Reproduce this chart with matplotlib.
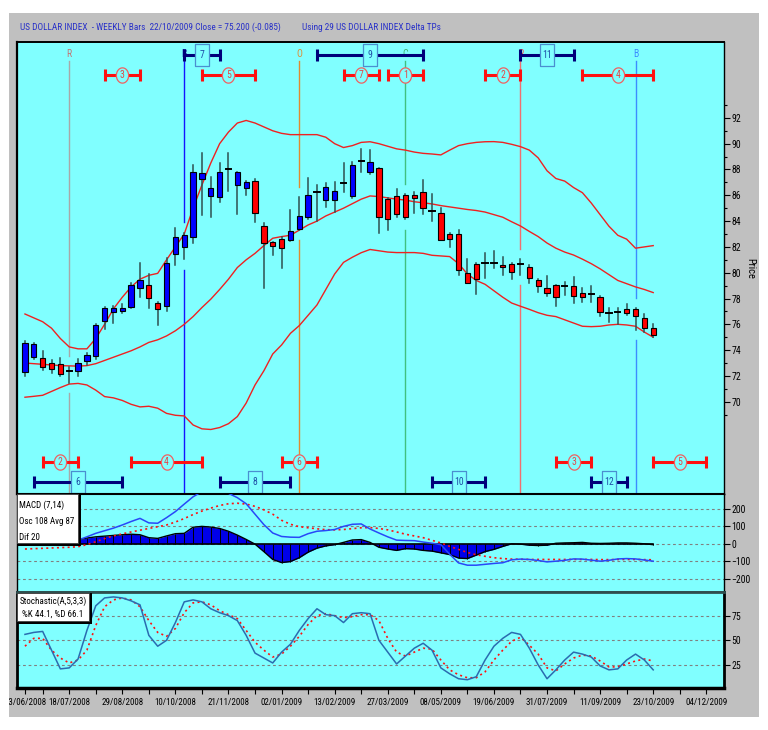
import numpy as np
import matplotlib
matplotlib.use('Agg')
import matplotlib.pyplot as plt
import matplotlib.transforms as mtransforms
from matplotlib.patches import Rectangle
from matplotlib import font_manager as fm

# ---------------- pick a condensed font if one is installed ----------------
def pick_font():
    for fam in ['Liberation Sans Narrow', 'Arial Narrow', 'Roboto Condensed',
                'Open Sans Condensed', 'Noto Sans Condensed', 'DejaVu Sans Condensed']:
        try:
            fm.findfont(fm.FontProperties(family=fam), fallback_to_default=False)
            return fam, 'normal', True
        except Exception:
            pass
    for fam in ['DejaVu Sans', 'Noto Sans', 'Roboto', 'Open Sans', 'Liberation Sans']:
        try:
            p = fm.findfont(fm.FontProperties(family=fam, stretch='condensed'),
                            fallback_to_default=False)
            if 'ondensed' in p or 'arrow' in p:
                return fam, 'condensed', True
        except Exception:
            pass
    return 'Liberation Sans', 'normal', False


FAM, STRETCH, CONDENSED = pick_font()
plt.rcParams['font.family'] = [FAM, 'DejaVu Sans']
plt.rcParams['font.stretch'] = STRETCH
K = 1.0 if CONDENSED else 0.84   # font-size factor

# ---------------- data (weekly bars, index 0 = 13/06/2008) ----------------
opens = [72.33, 73.44, 73.39, 72.98, 72.93, 72.40, 72.41, 73.13, 73.55, 76.28,
         76.98, 77.03, 77.37, 78.79, 79.02, 77.63, 77.45, 81.45, 81.97, 82.80,
         87.24, 85.97, 85.90, 88.00, 86.80, 86.60, 87.11, 83.62, 82.36, 82.62,
         82.54, 83.39, 84.29, 86.28, 85.64, 85.64, 86.93, 85.95, 88.69, 87.84,
         88.14, 85.69, 85.95, 86.00, 86.00, 86.28, 84.81, 84.60, 82.98, 82.98,
         80.00, 80.68, 80.78, 80.78, 80.63, 80.68, 80.68, 80.47, 79.44, 78.84,
         79.05, 78.97, 79.00, 78.40, 78.35, 78.14, 76.90, 76.93, 77.16, 77.19,
         76.52, 75.69]
highs = [74.73, 74.53, 73.96, 73.24, 73.36, 72.72, 73.29, 73.80, 76.03, 77.37,
         77.42, 77.58, 79.18, 80.78, 79.90, 77.76, 81.17, 83.49, 83.11, 88.35,
         89.26, 87.45, 88.53, 89.26, 87.84, 87.11, 87.24, 83.88, 82.41, 82.75,
         84.86, 85.85, 87.37, 86.80, 86.93, 87.01, 88.48, 88.61, 89.57, 89.51,
         88.14, 85.77, 86.47, 86.10, 86.28, 87.19, 86.10, 84.99, 83.05, 83.31,
         81.04, 80.73, 81.50, 81.68, 81.25, 80.78, 81.04, 80.60, 79.49, 79.75,
         79.05, 79.31, 79.70, 78.84, 78.97, 78.19, 77.24, 77.24, 77.58, 77.24,
         76.80, 76.03]
lows = [72.02, 73.29, 72.46, 72.20, 71.99, 71.48, 71.99, 72.85, 73.34, 75.61,
        76.13, 76.85, 77.24, 78.15, 77.24, 75.95, 77.06, 80.57, 81.04, 82.33,
        84.48, 84.35, 85.51, 86.34, 84.55, 86.00, 83.96, 78.79, 81.37, 80.39,
        82.49, 83.31, 84.14, 84.01, 85.07, 84.73, 86.28, 85.77, 87.84, 87.65,
        83.05, 83.31, 84.35, 84.14, 84.66, 84.55, 84.04, 82.54, 81.97, 79.82,
        79.18, 78.35, 79.57, 80.34, 79.82, 79.49, 79.82, 79.23, 78.53, 78.19,
        77.45, 78.27, 77.68, 77.76, 77.76, 76.65, 76.21, 76.03, 76.72, 75.56,
        75.43, 74.99]
closes = [74.58, 74.48, 72.72, 72.56, 72.12, 72.40, 73.03, 73.60, 75.97, 77.24,
          77.24, 77.29, 79.02, 79.44, 78.02, 77.19, 80.73, 82.75, 82.93, 87.78,
          87.76, 86.54, 87.78, 88.00, 87.78, 87.00, 84.66, 82.33, 82.07, 81.89,
          83.26, 84.43, 86.00, 86.28, 86.62, 86.36, 86.93, 88.33, 88.69, 88.56,
          84.35, 84.14, 84.55, 84.29, 85.82, 84.99, 84.81, 82.54, 82.62, 80.21,
          79.23, 79.49, 80.78, 80.78, 80.42, 80.08, 80.68, 79.59, 78.97, 78.40,
          78.14, 78.97, 78.22, 78.09, 78.35, 76.98, 76.90, 76.93, 76.85, 76.65,
          75.69, 75.20]

bb_upper = [76.8, 76.5, 76.2, 75.7, 74.9, 74.25, 74.1, 74.1, 74.9, 76.0,
            77.2, 78.1, 78.9, 79.5, 79.8, 79.95, 81.0, 82.0, 83.0, 85.0,
            86.8, 88.5, 90.0, 90.9, 91.6, 91.8, 91.6, 91.3, 91.0, 90.8,
            90.7, 90.7, 90.7, 90.7, 90.5, 90.0, 89.7, 89.85, 90.1, 90.15,
            90.0, 89.8, 89.6, 89.5, 89.35, 89.25, 89.2, 89.13, 89.5, 89.85,
            90.0, 90.1, 90.15, 90.16, 90.1, 89.95, 89.77, 89.5, 88.9, 87.9,
            87.3, 87.1, 86.6, 86.2, 85.4, 84.5, 83.6, 82.9, 82.6, 81.9,
            82.0, 82.1]
bb_mid = [73.0, 72.95, 72.9, 72.85, 72.8, 72.78, 72.76, 72.8, 72.95, 73.2,
          73.45, 73.7, 73.95, 74.25, 74.6, 74.8, 75.1, 75.5, 76.0, 76.6,
          77.3, 77.95, 78.7, 79.5, 80.4, 81.0, 81.5, 82.1, 82.67, 82.8,
          82.9, 83.3, 83.7, 84.0, 84.4, 84.7, 85.0, 85.35, 85.7, 85.95,
          85.9, 85.8, 85.7, 85.63, 85.5, 85.42, 85.33, 85.2, 85.1, 85.0,
          84.9, 84.82, 84.7, 84.5, 84.3, 83.95, 83.62, 83.2, 82.8, 82.3,
          81.9, 81.6, 81.37, 81.05, 80.7, 80.3, 79.85, 79.4, 79.15, 78.9,
          78.7, 78.46]
bb_lower = [70.35, 70.42, 70.5, 70.8, 71.1, 71.37, 71.42, 71.3, 70.9, 70.4,
            70.3, 70.1, 69.8, 69.6, 69.65, 69.5, 69.1, 68.95, 68.9, 68.2,
            67.9, 67.85, 68.0, 68.3, 68.85, 69.9, 71.3, 72.4, 73.7, 74.4,
            75.3, 75.9, 76.7, 77.5, 78.7, 79.9, 80.8, 81.2, 81.55, 81.8,
            81.7, 81.6, 81.56, 81.56, 81.56, 81.5, 81.35, 81.3, 81.25, 80.7,
            79.9, 79.4, 79.1, 78.6, 78.1, 77.65, 77.4, 77.16, 76.9, 76.7,
            76.6, 76.35, 76.1, 75.85, 75.82, 75.85, 75.95, 76.0, 75.95, 75.85,
            75.4, 75.0]

macd_line = [-5, 3, 8, 11, 13, 16, 21, 40, 60, 75,
             90, 108, 128, 146, 120, 118, 150, 185, 228, 270,
             300, 310, 305, 290, 265, 230, 170, 110, 62, 42,
             38, 37, 58, 72, 76, 82, 100, 112, 114, 85,
             62, 40, 21, 19, 18, 10, 3, -5, -60, -110,
             -123, -123, -118, -113, -109, -92, -88, -90, -96, -104,
             -100, -95, -87, -88, -94, -100, -95, -87, -85, -87,
             -93, -100]
macd_signal = [-30, -28, -26, -24, -22, -20, -17, -5, 12, 30,
               45, 57, 68, 78, 88, 98, 108, 125, 145, 168,
               188, 205, 220, 230, 233, 228, 215, 195, 170, 135,
               112, 98, 92, 86, 81, 80, 82, 87, 92, 93,
               88, 80, 68, 55, 45, 35, 20, 5, -15, -32,
               -50, -63, -72, -80, -85, -88, -89, -90, -90, -90,
               -90, -90, -90, -90, -90, -91, -91, -90, -90, -90,
               -91, -92]
macd_hist = [30, 33, 34, 34, 32, 28, 22, 33, 40, 44,
             48, 52, 55, 52, 35, 31, 45, 58, 60, 95,
             100, 96, 88, 72, 50, 25, -2, -45, -90, -108,
             -102, -80, -48, -25, -12, -5, 8, 22, 24, 8,
             -20, -30, -38, -28, -30, -38, -42, -52, -62, -82,
             -85, -65, -45, -32, -15, 0, -2, -8, -10, -8,
             3, 5, 6, 8, 3, 2, 3, 5, 5, 3,
             0, -5]

stoch_k = [56, 58, 59, 40, 21, 22, 31, 60, 85, 93,
           94, 93, 90, 86, 55, 44, 50, 68, 89, 91,
           89, 82, 78, 75, 70, 55, 37, 32, 27, 38,
           46, 60, 72, 82, 76, 75, 68, 77, 78, 77,
           50, 38, 26, 34, 42, 47, 40, 22, 16, 11,
           10, 13, 30, 44, 52, 58, 56, 42, 25, 11,
           20, 30, 38, 36, 33, 24, 20, 21, 30, 36,
           30, 20]
stoch_d = [44, 52, 52, 40, 32, 27, 30, 40, 65, 84,
           91, 93, 91, 84, 70, 58, 54, 62, 78, 88,
           89, 86, 80, 76, 72, 60, 48, 40, 33, 36,
           44, 54, 66, 75, 77, 75, 73, 74, 76, 76,
           70, 52, 38, 34, 38, 42, 41, 30, 20, 15,
           12, 12, 18, 30, 40, 49, 53, 45, 36, 22,
           19, 26, 32, 35, 34, 29, 23, 23, 26, 29,
           31, 29]

tick_pos = [0, 5, 11, 17, 23, 29, 35, 41, 47, 53, 59, 65, 71, 77]
tick_labels = ['13/06/2008', '18/07/2008', '29/08/2008', '10/10/2008', '21/11/2008',
               '02/01/2009', '13/02/2009', '27/03/2009', '08/05/2009', '19/06/2009',
               '31/07/2009', '11/09/2009', '23/10/2009', '04/12/2009']
minor_pos = [2, 8, 14, 20, 26, 32, 38, 44, 50, 56, 62, 68, 74]

# Delta turning points
tp_pos = [5, 18, 31, 43, 56, 69]
tp_letters = ['R', 'B', 'O', 'C', 'R', 'B']
tp_line_colors = ['#A8A8A8', '#1414FF', '#E08A30', '#40C080', '#F07070', '#3C8CFF']
tp_text_colors = ['#C07878', '#1010A0', '#E08A30', '#40B070', '#F05050', '#3C8CFF']

# time windows (start, end, number)
top_blue = [(18, 22, 7), (33, 45, 9), (56, 62, 11)]
top_red = [(9, 13, 3), (20, 26, 5), (36, 40, 7), (41, 45, 1), (52, 56, 2), (63, 71, 4)]
bot_red = [(2, 6, 2), (12, 20, 4), (29, 33, 6), (60, 64, 3), (71, 77, 5)]
bot_blue = [(1, 11, 6), (22, 30, 8), (46, 52, 10), (64, 68, 12)]

title_left = 'US DOLLAR INDEX  - WEEKLY Bars  22/10/2009 Close = 75.200 (-0.085)'
title_right = 'Using 29 US DOLLAR INDEX Delta TPs'
macd_legend = ['MACD (7,14)', 'Osc 108 Avg 87', 'Dif 20']
stoch_legend = ['Stochastic(A,5,3,3)', '%K 44.1, %D 66.1']

# ---------------- figure ----------------
W, H = 768, 730
fig = plt.figure(figsize=(W / 100, H / 100), dpi=100)
fig.patch.set_facecolor('white')


def fx(px):
    return px / W


def fy(py):
    return 1 - py / H


BG = '#80FFFF'
fig.add_artist(Rectangle((fx(9), fy(717)), fx(759) - fx(9), fy(13) - fy(717),
                         transform=fig.transFigure, facecolor='#C0C0C0',
                         edgecolor='none', zorder=-10))

L, R = 17, 724
ax1 = fig.add_axes([fx(L), fy(494), fx(R) - fx(L), fy(42) - fy(494)])
ax2 = fig.add_axes([fx(L), fy(592), fx(R) - fx(L), fy(494) - fy(592)], sharex=ax1)
ax3 = fig.add_axes([fx(L), fy(688), fx(R) - fx(L), fy(592) - fy(688)], sharex=ax1)

TSY = 7.0 * K   # y tick label size
TSX = 6.5 * K   # x tick label size
n = len(closes)
idx = np.arange(n)
XL = (-0.9, 79.0)
for ax in (ax1, ax2, ax3):
    ax.set_facecolor(BG)
    ax.set_xlim(*XL)
    ax.yaxis.tick_right()
    ax.tick_params(axis='y', which='both', direction='out', labelsize=TSY, pad=1.5,
                   left=False, labelleft=False, right=True, labelright=True, width=0.8)
    ax.tick_params(axis='y', which='major', length=4)
    ax.tick_params(axis='y', which='minor', length=2)
    for s in ax.spines.values():
        s.set_color('black')
        s.set_linewidth(1.0)

# ---------- price panel ----------
Y0, Y1 = 62.85, 97.88
ax1.set_ylim(Y0, Y1)
ax1.set_yticks(np.arange(70, 93, 2))
ax1.set_yticks(np.arange(69, 94, 1), minor=True)
ax1.tick_params(axis='x', which='both', bottom=False, labelbottom=False)
ax1.spines['left'].set_linewidth(1.6)
ax1.spines['top'].set_linewidth(1.4)

# Bollinger bands
for band in (bb_upper, bb_mid, bb_lower):
    ax1.plot(idx, band, color='#F02020', lw=1.0, zorder=2)

# turning-point vertical lines (hidden around the bar)
ytop_line = Y0 + 0.958 * (Y1 - Y0)
for p, let, lc, tc in zip(tp_pos, tp_letters, tp_line_colors, tp_text_colors):
    ax1.plot([p, p], [Y0, lows[p] - 0.8], color=lc, lw=1.0, zorder=1)
    ax1.plot([p, p], [highs[p] + 0.8, ytop_line], color=lc, lw=1.0, zorder=1)
    ax1.text(p, Y0 + 0.9735 * (Y1 - Y0), let, color=tc, fontsize=7 * K,
             ha='center', va='center', zorder=3)

# candles
wick_c = '#2F5050'
for i in range(n):
    o, h, l, c = opens[i], highs[i], lows[i], closes[i]
    ax1.plot([i, i], [l, h], color=wick_c, lw=1.1, zorder=4)
    if abs(c - o) < 0.05:
        ax1.plot([i - 0.3, i + 0.3], [c, c], color='black', lw=1.4, zorder=5)
    else:
        fc = '#0000FF' if c > o else '#FF0000'
        ax1.add_patch(Rectangle((i - 0.3, min(o, c)), 0.6, abs(c - o),
                                facecolor=fc, edgecolor='black', lw=0.8, zorder=5))

# time windows
trans = mtransforms.blended_transform_factory(ax1.transData, ax1.transAxes)
ell = np.linspace(0, 2 * np.pi, 40)
ellipse_marker = np.column_stack([6 * np.cos(ell), 7.5 * np.sin(ell)])
box_marker = np.array([[-7, -11.5], [7, -11.5], [7, 11.5], [-7, 11.5], [-7, -11.5]])


def draw_windows(wins, yfrac, kind):
    for s, e, num in wins:
        m = (s + e) / 2
        if kind == 'red':
            col, mk, ms, mec, tcol = '#FF1010', ellipse_marker, 11, '#F06060', '#E04848'
        else:
            col, mk, ms, mec, tcol = '#00007A', box_marker, 16.5, '#4A8FD0', '#2050A8'
        ax1.plot([s, e], [yfrac, yfrac], color=col, lw=2.2, transform=trans,
                 zorder=6, solid_capstyle='butt')
        ax1.plot([s, e], [yfrac, yfrac], ls='none', marker='|', ms=9, mew=2.2,
                 color=col, transform=trans, zorder=6)
        ax1.plot([m], [yfrac], ls='none', marker=mk, ms=ms,
                 mfc=BG, mec=mec, mew=0.9, transform=trans, zorder=7)
        ax1.text(m, yfrac, str(num), color=tcol, fontsize=7 * K,
                 ha='center', va='center', transform=trans, zorder=8)


draw_windows(top_blue, 0.9712, 'blue')
draw_windows(top_red, 0.927, 'red')
draw_windows(bot_red, 0.0708, 'red')
draw_windows(bot_blue, 0.0265, 'blue')

# ---------- MACD panel ----------
ax2.set_ylim(-277, 286)
ax2.set_yticks([-200, -100, 0, 100, 200])
ax2.tick_params(axis='x', which='both', bottom=False, labelbottom=False)
for g in [-200, -100, 0, 100, 200]:
    ax2.axhline(g, color='#808080', lw=0.8, ls=(0, (2.5, 2.5)), zorder=1)
ax2.fill_between(idx, 0, macd_hist, color='#0000E8', lw=0, zorder=2)
ax2.vlines(idx, 0, macd_hist, color='black', lw=0.7, zorder=3)
ax2.plot(idx, macd_hist, color='black', lw=1.0, zorder=3)
ax2.plot([idx[0], idx[-1]], [0, 0], color='black', lw=1.2, zorder=3)
ax2.plot(idx, macd_signal, color='#FF1010', lw=1.2, ls=(0, (1.2, 2.0)), zorder=4)
ax2.plot(idx, macd_line, color='#2848F8', lw=1.1, zorder=5)
ax2.spines['top'].set_linewidth(1.5)
ax2.spines['bottom'].set_color('#2F4F4F')
ax2.spines['bottom'].set_linewidth(2.0)

# ---------- Stochastic panel ----------
ax3.set_ylim(1.6, 99)
ax3.set_yticks([25, 50, 75])
for g in [25, 50, 75]:
    ax3.axhline(g, color='#808080', lw=0.8, ls=(0, (2.5, 2.5)), zorder=1)
ax3.plot(idx, stoch_d, color='#FF1010', lw=1.2, ls=(0, (1.2, 2.0)), zorder=3)
ax3.plot(idx, stoch_k, color='#2A6CB0', lw=1.1, zorder=4)
ax3.set_xticks(tick_pos)
ax3.set_xticklabels(tick_labels)
ax3.set_xticks(minor_pos, minor=True)
ax3.tick_params(axis='x', which='both', direction='out', length=4, width=0.8,
                labelsize=TSX, pad=3.5, colors='black')
ax3.spines['bottom'].set_linewidth(2.5)
ax3.spines['right'].set_linewidth(2.0)
ax3.spines['left'].set_linewidth(2.0)
ax3.spines['top'].set_color('#2F4F4F')
ax3.spines['top'].set_linewidth(2.0)
clip = mtransforms.TransformedBbox(mtransforms.Bbox([[fx(9), 0], [fx(759), 1]]),
                                   fig.transFigure)
for lab in ax3.get_xticklabels():
    lab.set_clip_on(True)
    lab.set_clip_box(clip)

# ---------- titles and labels ----------
fig.text(fx(20), fy(27), title_left, color='#2830C8', fontsize=6.7 * K, ha='left', va='center')
fig.text(fx(302), fy(27), title_right, color='#2830C8', fontsize=6.7 * K, ha='left', va='center')
fig.text(fx(750), fy(268), 'Price', rotation=270, fontsize=7.5 * K, ha='center', va='center')


def legend_box(x0, y0, x1, y1, lines, ys, xs, ha):
    fig.add_artist(Rectangle((fx(x0), fy(y1 + 3)), fx(x1 + 3) - fx(x0), fy(y0) - fy(y1 + 3),
                             transform=fig.transFigure, facecolor='black',
                             edgecolor='none', zorder=20))
    fig.add_artist(Rectangle((fx(x0), fy(y1)), fx(x1) - fx(x0), fy(y0) - fy(y1),
                             transform=fig.transFigure, facecolor='white',
                             edgecolor='#404040', lw=0.6, zorder=21))
    for t, yy in zip(lines, ys):
        fig.text(fx(xs), fy(yy), t, fontsize=6.5 * K, ha=ha, va='center', zorder=22)


legend_box(17, 494, 78, 543, macd_legend, [505, 521, 537], 19, 'left')
legend_box(17, 593, 89, 621, stoch_legend, [601, 614], 53, 'center')

fig.savefig('out.png', dpi=100, facecolor='white')
